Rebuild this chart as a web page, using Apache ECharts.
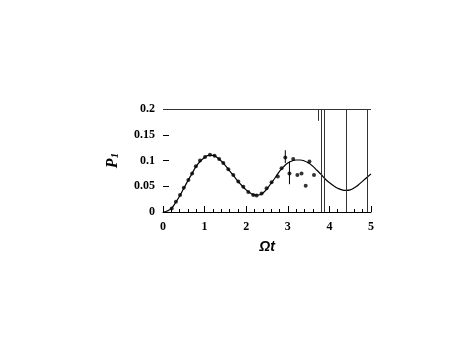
<!DOCTYPE html>
<html><head><meta charset="utf-8">
<script src="https://cdn.jsdelivr.net/npm/echarts@6/dist/echarts.min.js"></script>
<style>html,body{margin:0;padding:0;background:#fff}#c{width:463px;height:358px}</style>
</head><body><div id="c"></div>
<script>
const xTicks = [0, 1, 2, 3, 4, 5];
const yTicks = [0, 0.05, 0.1, 0.15, 0.2];
const curveT = [0,0.1,0.2,0.3,0.4,0.5,0.6,0.7,0.8,0.9,1.0,1.1,1.2,1.3,1.4,1.5,1.6,1.7,1.8,1.9,2.0,2.1,2.2,2.3,2.4,2.5,2.6,2.7,2.8,2.9,3.0,3.1,3.2,3.3,3.4,3.5,3.6,3.7,3.8,3.9,4.0,4.1,4.2,4.3,4.4,4.5,4.6,4.7,4.8,4.9,5.0];
const curveP = [0,0.002,0.007,0.018,0.031,0.046,0.061,0.075,0.089,0.099,0.106,0.110,0.110,0.106,0.099,0.090,0.080,0.070,0.060,0.051,0.043,0.037,0.033,0.033,0.037,0.045,0.056,0.067,0.079,0.088,0.095,0.099,0.101,0.101,0.099,0.095,0.089,0.081,0.073,0.064,0.057,0.051,0.046,0.043,0.042,0.043,0.047,0.053,0.060,0.067,0.074];
const dotT = [0.21,0.31,0.41,0.50,0.61,0.70,0.79,0.89,1.01,1.13,1.24,1.35,1.45,1.57,1.69,1.81,1.93,2.05,2.17,2.25,2.37,2.49,2.61,2.76,2.85,2.94,3.04,3.13,3.23,3.33,3.43,3.52,3.63];
const dotP = [0.007,0.020,0.033,0.047,0.062,0.075,0.089,0.100,0.107,0.111,0.109,0.103,0.095,0.083,0.072,0.059,0.049,0.039,0.033,0.032,0.036,0.046,0.058,0.069,0.085,0.106,0.075,0.103,0.072,0.075,0.051,0.098,0.072];
const errT = [2.94, 3.04];
const errLo = [0.095, 0.054];
const errHi = [0.120, 0.098];
const vLines = [3.80, 3.88, 4.41, 4.90];
const shortLine = {t: 3.72, from: 0.2, to: 0.177};
const topLineY = 0.2;

const chart = echarts.init(document.getElementById('c'));
const serif = '"Liberation Serif","DejaVu Serif",serif';
const series = [
  {type:'line', data: curveT.map((t,i)=>[t,curveP[i]]), showSymbol:false, smooth:true,
   lineStyle:{color:'#000', width:1.2}, z:3,
   markLine:{silent:true, symbol:'none', label:{show:false},
     lineStyle:{color:'#333', width:1, type:'solid'},
     data: [{yAxis: topLineY}].concat(vLines.map(v=>({xAxis:v}))).concat([[{coord:[shortLine.t, shortLine.from]},{coord:[shortLine.t, shortLine.to]}]])
   }},
  {type:'scatter', data: dotT.map((t,i)=>[t,dotP[i]]), symbolSize:4, itemStyle:{color:'#000'}, z:4}
];
errT.forEach((t,i)=>{
  series.push({type:'line', data:[[t,errLo[i]],[t,errHi[i]]], showSymbol:false, lineStyle:{color:'#000', width:1}, z:4});
});
chart.setOption({
  animation:false,
  backgroundColor:'#fff',
  grid:{left:163, right:92, top:109, bottom:146, containLabel:false},
  xAxis:{type:'value', min:0, max:5, interval:1,
    axisLine:{lineStyle:{color:'#000', width:1}},
    axisTick:{inside:true, length:6, lineStyle:{color:'#000'}},
    minorTick:{show:true, splitNumber:5, length:3, lineStyle:{color:'#000'}},
    splitLine:{show:false},
    axisLabel:{color:'#000', fontFamily:serif, fontWeight:'bold', fontSize:12, margin:9,
      formatter:v=>xTicks.includes(v)?String(v):''},
    name:'Ωt', nameLocation:'middle', nameGap:28,
    nameTextStyle:{color:'#000', fontFamily:'"Liberation Sans",Arial,sans-serif', fontWeight:'bold', fontStyle:'italic', fontSize:14}
  },
  yAxis:{type:'value', min:0, max:0.2, interval:0.05,
    axisLine:{show:false},
    axisTick:{show:true, inside:true, length:6, lineStyle:{color:'#000'}},
    splitLine:{show:false},
    axisLabel:{color:'#000', fontFamily:serif, fontWeight:'bold', fontSize:12, margin:8,
      formatter:v=>{ const f = yTicks.find(y=>Math.abs(y-v)<1e-9); return f===undefined?'':String(+f.toFixed(2)); }},
    name:'{p|P}{s|1}', nameLocation:'middle', nameGap:42, nameRotate:90,
    nameTextStyle:{rich:{
      p:{color:'#000', fontFamily:serif, fontWeight:'bold', fontStyle:'italic', fontSize:16},
      s:{color:'#000', fontFamily:serif, fontWeight:'bold', fontStyle:'italic', fontSize:11, verticalAlign:'bottom', padding:[6,0,0,0]}
    }}
  },
  series: series
});
</script>
</body></html>
